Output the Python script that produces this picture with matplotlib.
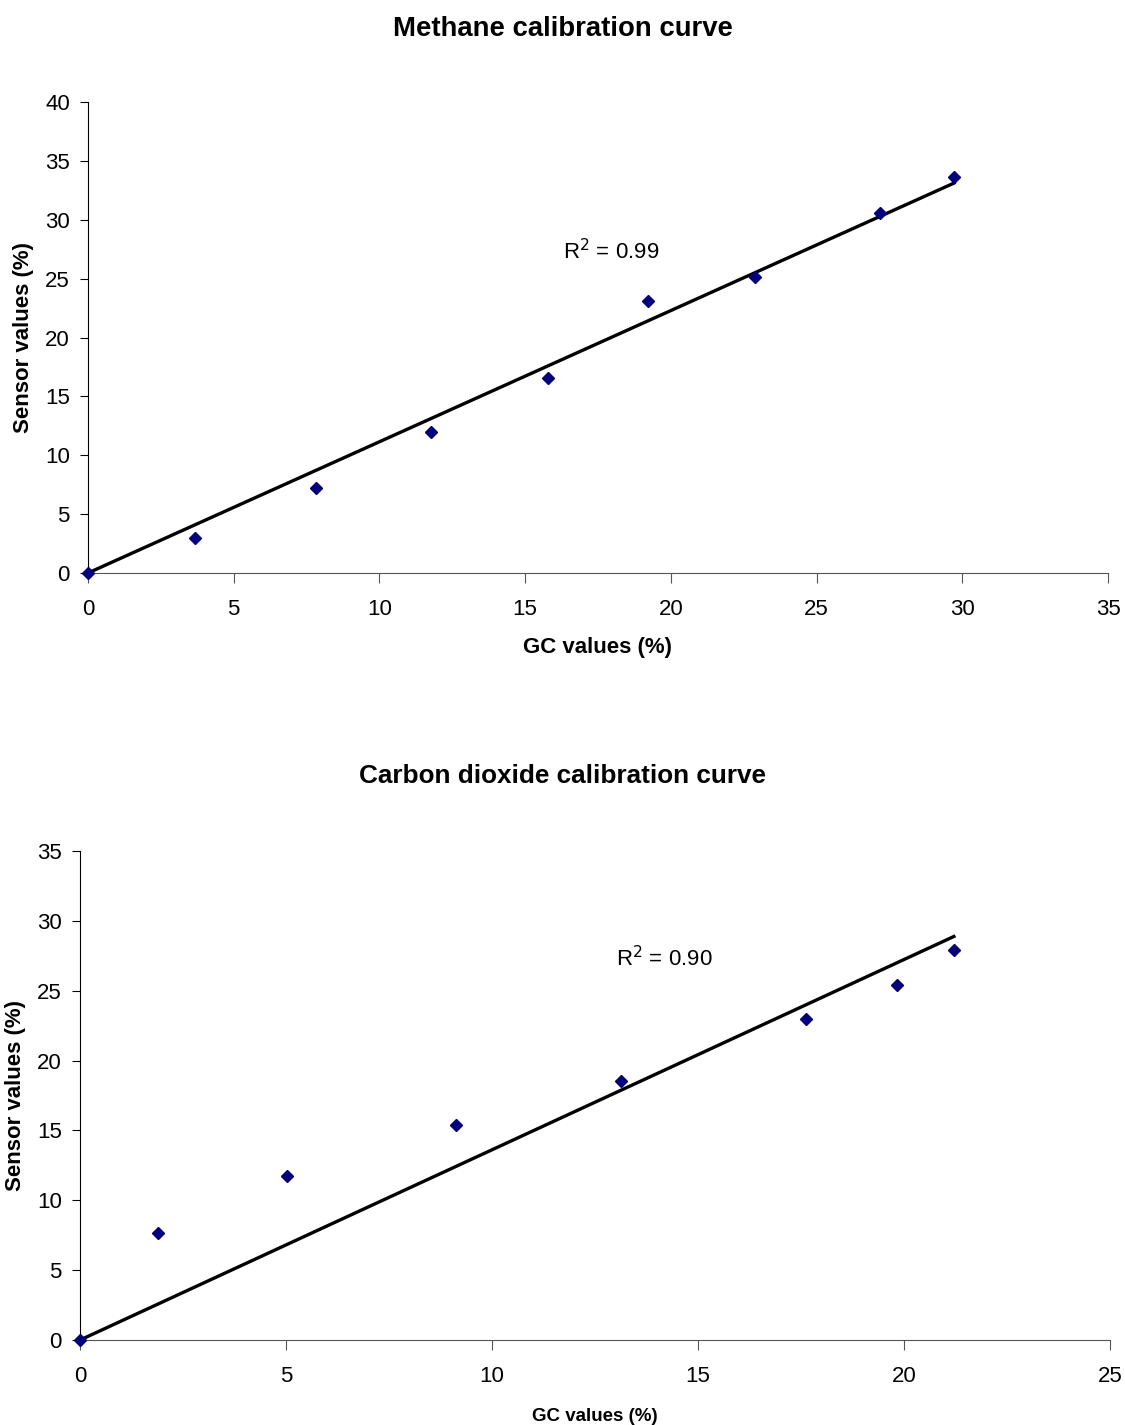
import numpy as np
import matplotlib.pyplot as plt

plt.rcParams["font.family"] = ["Liberation Sans", "DejaVu Sans"]

# Methane calibration data (GC vs sensor, %)
CH4_GC = [0, 3.67, 7.82, 11.77, 15.78, 19.22, 22.89, 27.18, 29.72]
CH4_SENSOR = [0, 2.97, 7.2, 11.97, 16.56, 23.1, 25.14, 30.57, 33.6]
CH4_R2 = "0.99"

# Carbon dioxide calibration data
CO2_GC = [0, 1.89, 5.02, 9.13, 13.13, 17.62, 19.83, 21.21]
CO2_SENSOR = [0, 7.66, 11.74, 15.39, 18.54, 22.98, 25.41, 27.92]
CO2_R2 = "0.90"

MARKER_COLOR = "#000080"


def origin_fit(x, y):
    x = np.asarray(x, float)
    y = np.asarray(y, float)
    return (x @ y) / (x @ x)


def calib_panel(ax, gc, sensor, r2, xmax, ymax, r2_pos, xlabel_size, xlabel_pad):
    k = origin_fit(gc, sensor)
    xs = np.array([0, max(gc)])
    ax.plot(xs, k * xs, color="black", linewidth=2.4, zorder=2)
    ax.plot(gc, sensor, linestyle="none", marker="D", markersize=6,
            color=MARKER_COLOR, zorder=3, clip_on=False)
    ax.text(r2_pos[0], r2_pos[1], f"R$^2$ = {r2}", fontsize=16,
            va="center", ha="left")

    ax.set_xlim(0, xmax)
    ax.set_ylim(0, ymax)
    ax.set_xticks(np.arange(0, xmax + 1, 5))
    ax.set_yticks(np.arange(0, ymax + 1, 5))
    ax.spines["top"].set_visible(False)
    ax.spines["right"].set_visible(False)
    ax.spines["bottom"].set_color("#555555")
    ax.tick_params(axis="x", direction="out", length=7, pad=12,
                   labelsize=16, color="#555555")
    ax.tick_params(axis="y", direction="out", length=6, pad=7, labelsize=16)
    ax.set_xlabel("GC values (%)", fontsize=xlabel_size, fontweight="bold",
                  labelpad=xlabel_pad)
    ax.set_ylabel("Sensor values (%)", fontsize=16, fontweight="bold",
                  labelpad=8)


fig = plt.figure(figsize=(11.25, 14.25), dpi=100)
ax1 = fig.add_axes([0.0782, 0.5979, 0.9067, 0.3305])
ax2 = fig.add_axes([0.0711, 0.0596, 0.9156, 0.3432])

calib_panel(ax1, CH4_GC, CH4_SENSOR, CH4_R2, 35, 40, (16.3, 27.3), 16, 12)
calib_panel(ax2, CO2_GC, CO2_SENSOR, CO2_R2, 25, 35, (13.0, 27.3), 13.5, 15)

fig.text(0.5, 1 - 29 / 1425, "Methane calibration curve", fontsize=19.8,
         fontweight="bold", ha="center", va="center")
fig.text(0.5, 1 - 776 / 1425, "Carbon dioxide calibration curve", fontsize=18.8,
         fontweight="bold", ha="center", va="center")

fig.savefig("out.png", dpi=100)
plt.close(fig)
